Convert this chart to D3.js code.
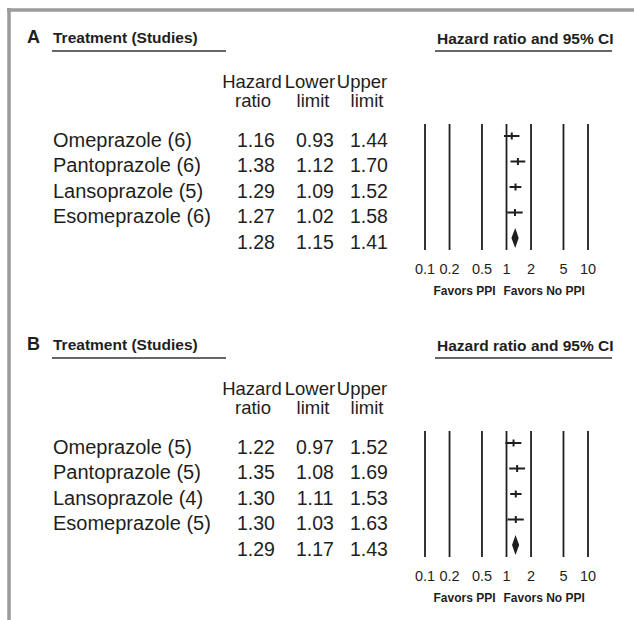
<!DOCTYPE html>
<html><head><meta charset="utf-8">
<script src="https://cdn.jsdelivr.net/npm/d3@7"></script>
<style>
html,body{margin:0;padding:0;background:#fff;}
svg{display:block;}
</style></head>
<body>
<svg id="chart" width="634" height="620"></svg>
<script>
// ---- data ----
const panelLetters = ["A", "B"];
const studiesA = ["Omeprazole (6)", "Pantoprazole (6)", "Lansoprazole (5)", "Esomeprazole (6)"];
const hrA = [1.16, 1.38, 1.29, 1.27];
const lowerA = [0.93, 1.12, 1.09, 1.02];
const upperA = [1.44, 1.70, 1.52, 1.58];
const pooledA = [1.28, 1.15, 1.41];
const studiesB = ["Omeprazole (5)", "Pantoprazole (5)", "Lansoprazole (4)", "Esomeprazole (5)"];
const hrB = [1.22, 1.35, 1.30, 1.30];
const lowerB = [0.97, 1.08, 1.11, 1.03];
const upperB = [1.52, 1.69, 1.53, 1.63];
const pooledB = [1.29, 1.17, 1.43];
const tickValues = [0.1, 0.2, 0.5, 1, 2, 5, 10];
const colHeaders1 = ["Hazard", "Lower", "Upper"];
const colHeaders2 = ["ratio", "limit", "limit"];

const svg = d3.select("#chart");
const ink = "#1e1e1e";
const font = "'Liberation Sans', Arial, Helvetica, sans-serif";
const fmt = d3.format(".2f");

// frame
svg.append("line").attr("x1", 9).attr("x2", 9).attr("y1", 8).attr("y2", 620)
  .attr("stroke", "#9b9b9b").attr("stroke-width", 3.5);
svg.append("line").attr("x1", 7).attr("x2", 634).attr("y1", 10).attr("y2", 10)
  .attr("stroke", "#9b9b9b").attr("stroke-width", 3.5);

const x = d3.scaleLog().domain([0.1, 10]).range([425, 588]);

function panel(offY, letter, studies, hr, lo, up, pooled) {
  const g = svg.append("g").attr("transform", `translate(0,${offY})`)
    .attr("font-family", font).attr("fill", ink);
  // headings
  g.append("text").attr("x", 27).attr("y", 43).attr("font-size", 18).attr("font-weight", "bold").text(letter);
  g.append("text").attr("x", 53).attr("y", 43).attr("font-size", 15.5).attr("font-weight", "bold").text("Treatment (Studies)");
  g.append("line").attr("x1", 52).attr("x2", 226).attr("y1", 51).attr("y2", 51).attr("stroke", "#333").attr("stroke-width", 1.5);
  g.append("text").attr("x", 437).attr("y", 44).attr("font-size", 15.5).attr("font-weight", "bold").text("Hazard ratio and 95% CI");
  g.append("line").attr("x1", 435).attr("x2", 612).attr("y1", 51).attr("y2", 51).attr("stroke", "#333").attr("stroke-width", 1.5);

  // column headers
  const colX1 = [252, 310, 362];
  const colX2 = [253, 313, 367];
  const numX = [256, 315, 369];
  colHeaders1.forEach((h, i) => g.append("text").attr("x", colX1[i]).attr("y", 88).attr("text-anchor", "middle").attr("font-size", 18.5).text(h));
  colHeaders2.forEach((h, i) => g.append("text").attr("x", colX2[i]).attr("y", 107).attr("text-anchor", "middle").attr("font-size", 18.5).text(h));

  const rows = studies.map((s, i) => ({ name: s, hr: hr[i], lo: lo[i], up: up[i] }));
  const allRows = rows.concat([{ name: "", hr: pooled[0], lo: pooled[1], up: pooled[2], pooled: true }]);
  const y = d3.scalePoint().domain(d3.range(allRows.length)).range([136, 238]);

  allRows.forEach((r, i) => {
    const ty = y(i) + 10.5;
    if (r.name) g.append("text").attr("x", 53).attr("y", ty).attr("font-size", 20).text(r.name);
    [r.hr, r.lo, r.up].forEach((v, j) =>
      g.append("text").attr("x", numX[j]).attr("y", ty).attr("text-anchor", "middle").attr("font-size", 19.5).text(fmt(v)));
  });

  // vertical reference lines
  g.selectAll("line.ref").data(tickValues).enter().append("line")
    .attr("x1", d => x(d)).attr("x2", d => x(d)).attr("y1", 124).attr("y2", 250)
    .attr("stroke", ink).attr("stroke-width", 1.8);
  // tick labels
  g.selectAll("text.tick").data(tickValues).enter().append("text")
    .attr("x", d => x(d)).attr("y", 274).attr("text-anchor", "middle").attr("font-size", 14.5)
    .text(d => d3.format("~g")(d));
  g.append("text").attr("x", x(1) - 11).attr("y", 295).attr("text-anchor", "end").attr("font-size", 12).attr("font-weight", "bold").text("Favors PPI");
  g.append("text").attr("x", x(1) - 3).attr("y", 295).attr("font-size", 12).attr("font-weight", "bold").text("Favors No PPI");

  // study CIs
  rows.forEach((r, i) => {
    g.append("line").attr("x1", x(r.lo)).attr("x2", x(r.up)).attr("y1", y(i)).attr("y2", y(i))
      .attr("stroke", ink).attr("stroke-width", 2);
    g.append("line").attr("x1", x(r.hr)).attr("x2", x(r.hr)).attr("y1", y(i) - 3.5).attr("y2", y(i) + 3.5)
      .attr("stroke", ink).attr("stroke-width", 2);
  });
  // pooled diamond
  const py = y(allRows.length - 1);
  const pts = [[x(pooled[1]), py], [x(pooled[0]), py - 10], [x(pooled[2]), py], [x(pooled[0]), py + 10]];
  g.append("path").attr("d", d3.line()(pts) + "Z").attr("fill", ink).attr("stroke", "none");
}

panel(0, panelLetters[0], studiesA, hrA, lowerA, upperA, pooledA);
panel(307, panelLetters[1], studiesB, hrB, lowerB, upperB, pooledB);
</script>
</body></html>
